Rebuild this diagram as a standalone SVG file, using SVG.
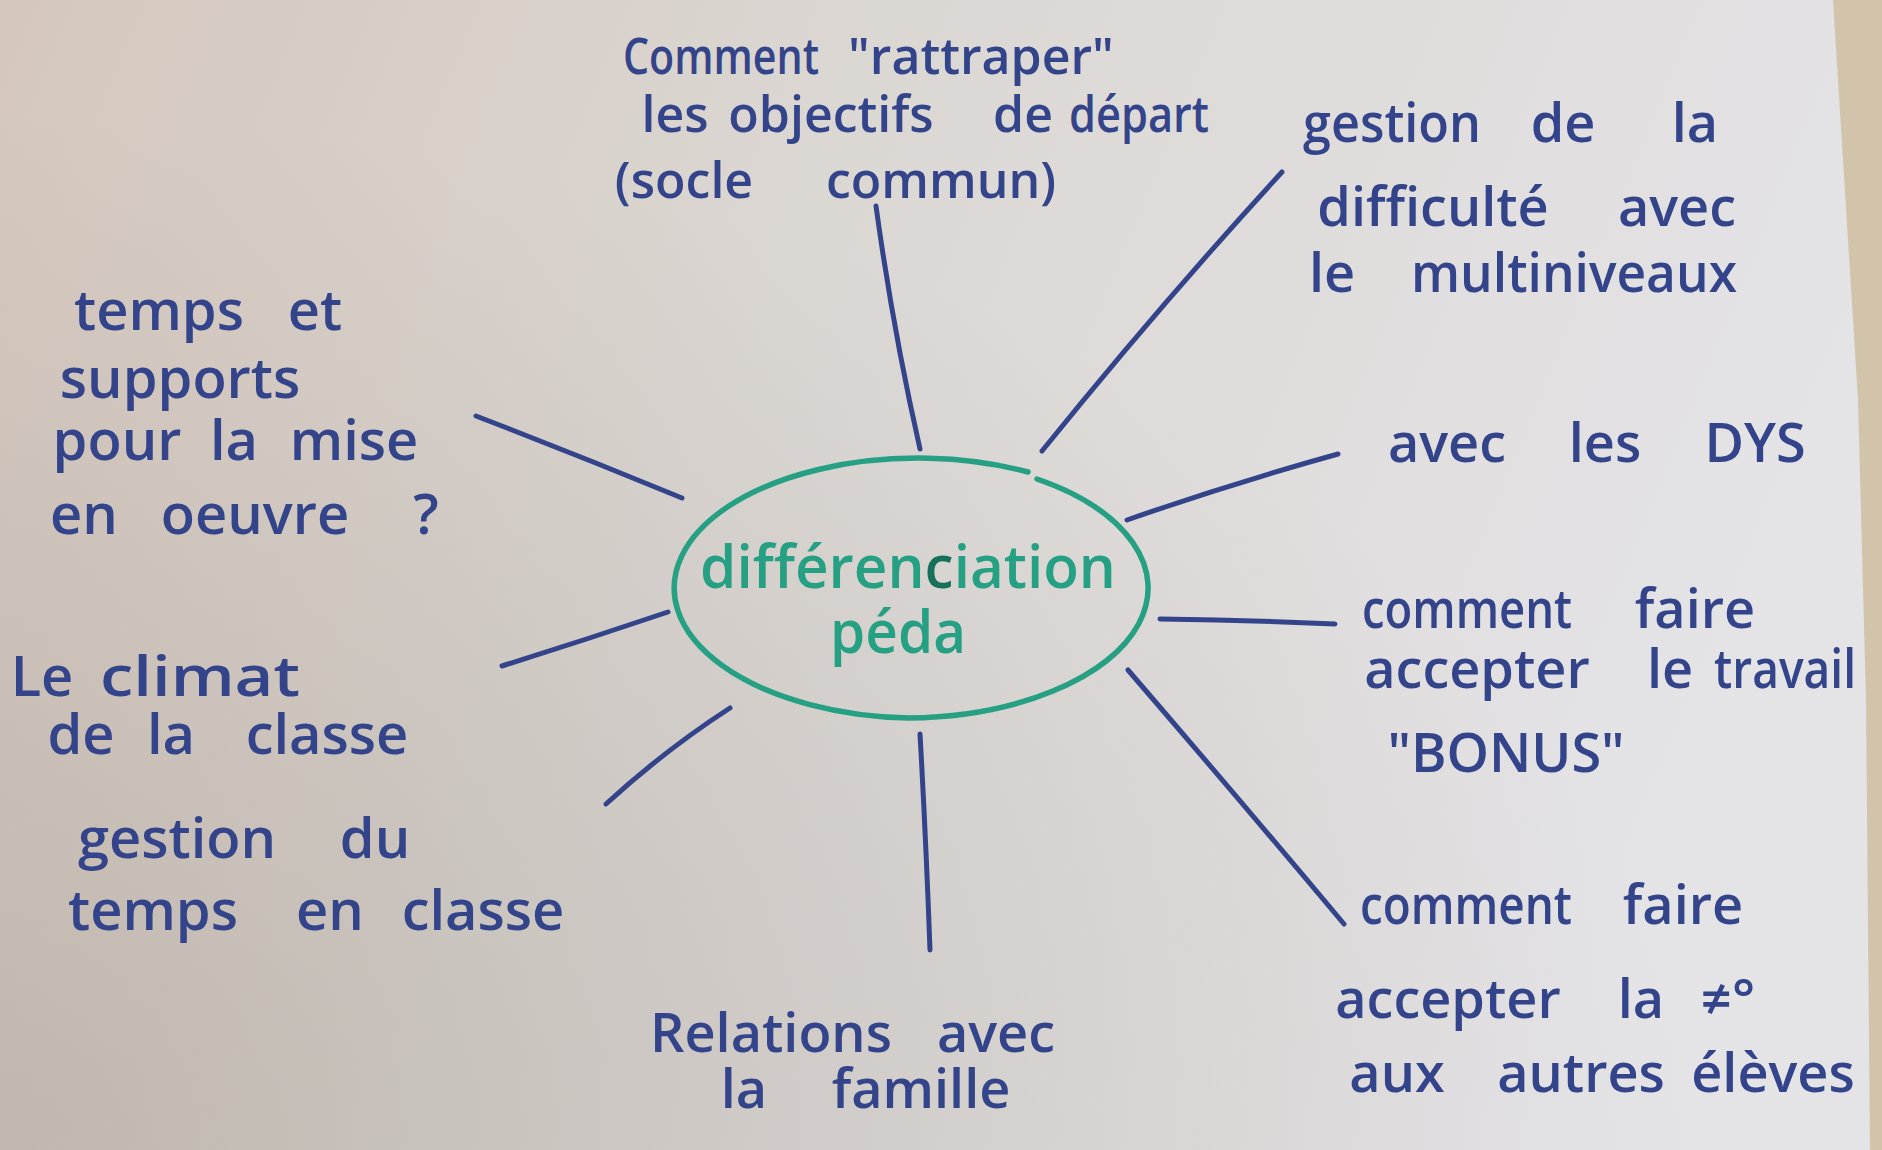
<svg xmlns="http://www.w3.org/2000/svg" width="1882" height="1150" viewBox="0 0 1882 1150">
  <defs>
    <linearGradient id="bg" x1="0" y1="0" x2="1" y2="0.25">
      <stop offset="0" stop-color="#d5c7bd"/>
      <stop offset="0.45" stop-color="#dbd7d3"/>
      <stop offset="1" stop-color="#e4e3e6"/>
    </linearGradient>
    <radialGradient id="shade" cx="0" cy="1" r="0.9">
      <stop offset="0" stop-color="#9c9288" stop-opacity="0.4"/>
      <stop offset="1" stop-color="#9c9288" stop-opacity="0"/>
    </radialGradient>
    <style>
      text { text-anchor: middle; }
      .ink { fill: #34448a; font-family: "Open Sans", "Liberation Sans", sans-serif; font-weight: 600; }
      .t50 { font-size: 50px; }
      .t54 { font-size: 54px; }
      .t56 { font-size: 56px; }
      .green { fill: #26a083; font-family: "Open Sans", "Liberation Sans", sans-serif; font-weight: 600; font-size: 60px; }
      .conn { stroke: #34448a; stroke-width: 5; stroke-linecap: round; fill: none; }
      .oval { stroke: #26a083; stroke-width: 5.5; stroke-linecap: round; fill: none; }
    </style>
  </defs>

  <rect x="0" y="0" width="1882" height="1150" fill="url(#bg)"/>
  <rect x="0" y="0" width="1882" height="1150" fill="url(#shade)"/>
  <polygon points="1833,0 1882,0 1882,1150 1870,1150 1866,700 1858,400" fill="#d2c4aa"/>

  <g id="connectors">
    <path class="conn" d="M 876 206 Q 893 330 920 449"/>
    <path class="conn" d="M 1282 172 Q 1160 305 1042 451"/>
    <path class="conn" d="M 1338 454 Q 1230 484 1127 520"/>
    <path class="conn" d="M 1160 619 Q 1250 620 1335 624"/>
    <path class="conn" d="M 1128 670 Q 1240 800 1344 924"/>
    <path class="conn" d="M 920 734 Q 926 840 930 950"/>
    <path class="conn" d="M 730 708 Q 665 750 606 804"/>
    <path class="conn" d="M 668 612 Q 585 640 502 666"/>
    <path class="conn" d="M 476 416 Q 580 456 682 498"/>
  </g>

  <g id="center">
    <path class="oval" d="M 1037 479 A 244 130 0 0 1 909 718 A 244 130 0 1 1 1028 472"/>
    <text class="green" x="908" y="588" textLength="416" lengthAdjust="spacingAndGlyphs">différen<tspan fill="#17715a">c</tspan>iation</text>
    <text class="green" x="898" y="653" textLength="136" lengthAdjust="spacingAndGlyphs">péda</text>
  </g>

  <g id="n-top">
    <text class="ink t50" x="721" y="74" textLength="196" lengthAdjust="spacingAndGlyphs">Comment</text>
    <text class="ink t50" x="981" y="74">"rattraper"</text>
    <text class="ink t50" x="675" y="132">les</text>
    <text class="ink t50" x="831" y="132">objectifs</text>
    <text class="ink t50" x="1023" y="132">de</text>
    <text class="ink t50" x="1139" y="132" textLength="140" lengthAdjust="spacingAndGlyphs">départ</text>
    <text class="ink t50" x="684" y="198">(socle</text>
    <text class="ink t50" x="941" y="198">commun)</text>
  </g>

  <g id="n-multiniveaux">
    <text class="ink t54" x="1392" y="142" textLength="178" lengthAdjust="spacingAndGlyphs">gestion</text>
    <text class="ink t54" x="1563" y="142">de</text>
    <text class="ink t54" x="1695" y="142">la</text>
    <text class="ink t54" x="1433" y="226">difficulté</text>
    <text class="ink t54" x="1677" y="226">avec</text>
    <text class="ink t54" x="1332" y="292">le</text>
    <text class="ink t54" x="1574" y="292" textLength="326" lengthAdjust="spacingAndGlyphs">multiniveaux</text>
  </g>

  <g id="n-dys">
    <text class="ink t54" x="1447" y="462">avec</text>
    <text class="ink t54" x="1605" y="462">les</text>
    <text class="ink t54" x="1755" y="462">DYS</text>
  </g>

  <g id="n-bonus">
    <text class="ink t54" x="1467" y="628" textLength="210" lengthAdjust="spacingAndGlyphs">comment</text>
    <text class="ink t54" x="1695" y="628">faire</text>
    <text class="ink t54" x="1477" y="688">accepter</text>
    <text class="ink t54" x="1670" y="688">le</text>
    <text class="ink t54" x="1785" y="688" textLength="142" lengthAdjust="spacingAndGlyphs">travail</text>
    <text class="ink t54" x="1506" y="772">"BONUS"</text>
  </g>

  <g id="n-eleves">
    <text class="ink t54" x="1466" y="924" textLength="212" lengthAdjust="spacingAndGlyphs">comment</text>
    <text class="ink t54" x="1683" y="924">faire</text>
    <text class="ink t54" x="1448" y="1018">accepter</text>
    <text class="ink t54" x="1641" y="1018">la</text>
    <text class="ink t54" x="1728" y="1018">≠°</text>
    <text class="ink t54" x="1397" y="1092">aux</text>
    <text class="ink t54" x="1581" y="1092">autres</text>
    <text class="ink t54" x="1773" y="1092">élèves</text>
  </g>

  <g id="n-famille">
    <text class="ink t54" x="771" y="1052">Relations</text>
    <text class="ink t54" x="996" y="1052">avec</text>
    <text class="ink t54" x="744" y="1108">la</text>
    <text class="ink t54" x="921" y="1108">famille</text>
  </g>

  <g id="n-temps-classe">
    <text class="ink t56" x="177" y="858">gestion</text>
    <text class="ink t56" x="375" y="858">du</text>
    <text class="ink t56" x="153" y="930">temps</text>
    <text class="ink t56" x="330" y="930">en</text>
    <text class="ink t56" x="483" y="930">classe</text>
  </g>

  <g id="n-climat">
    <text class="ink t56" x="42" y="696">Le</text>
    <text class="ink t56" x="200" y="696" textLength="200" lengthAdjust="spacingAndGlyphs">climat</text>
    <text class="ink t56" x="81" y="754">de</text>
    <text class="ink t56" x="171" y="754">la</text>
    <text class="ink t56" x="327" y="754">classe</text>
  </g>

  <g id="n-supports">
    <text class="ink t56" x="159" y="330">temps</text>
    <text class="ink t56" x="315" y="330">et</text>
    <text class="ink t56" x="180" y="398">supports</text>
    <text class="ink t56" x="117" y="460">pour</text>
    <text class="ink t56" x="234" y="460">la</text>
    <text class="ink t56" x="354" y="460">mise</text>
    <text class="ink t56" x="84" y="534">en</text>
    <text class="ink t56" x="255" y="534">oeuvre</text>
    <text class="ink t56" x="426" y="534">?</text>
  </g>
</svg>
